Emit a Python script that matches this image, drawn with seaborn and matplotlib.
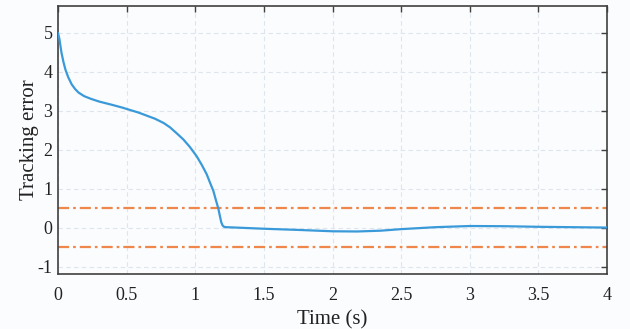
import matplotlib
matplotlib.use("Agg")
import matplotlib.pyplot as plt
import seaborn as sns
import pandas as pd

# Data
time_s = [0.0, 0.01, 0.025, 0.04, 0.055, 0.075, 0.1, 0.125, 0.15, 0.19, 0.24, 0.30, 0.39,
          0.464, 0.585, 0.707, 0.77, 0.816, 0.87, 0.913, 0.96, 1.01, 1.047, 1.083, 1.11,
          1.132, 1.15, 1.168, 1.18, 1.19, 1.2, 1.21, 1.225, 1.3, 1.5, 1.75, 2.0, 2.18,
          2.35, 2.5, 2.75, 3.0, 3.25, 3.5, 3.75, 4.0]
tracking_error = [5.0, 4.85, 4.5, 4.25, 4.05, 3.86, 3.68, 3.56, 3.47, 3.38, 3.31, 3.24, 3.16,
                  3.09, 2.96, 2.8, 2.69, 2.58, 2.41, 2.27, 2.08, 1.84, 1.62, 1.38, 1.14,
                  0.95, 0.72, 0.5, 0.3, 0.14, 0.06, 0.03, 0.02, 0.01, -0.02, -0.05, -0.085, -0.09,
                  -0.07, -0.03, 0.02, 0.05, 0.045, 0.03, 0.02, 0.01]
bound_levels = [0.5, -0.5]

x_ticks = [0, 0.5, 1, 1.5, 2, 2.5, 3, 3.5, 4]
x_tick_labels = ["0", "0.5", "1", "1.5", "2", "2.5", "3", "3.5", "4"]
y_ticks = [-1, 0, 1, 2, 3, 4, 5]
y_tick_labels = ["-1", "0", "1", "2", "3", "4", "5"]

sns.set_theme(style="white")
plt.rcParams["font.family"] = ["Liberation Serif", "DejaVu Serif"]

bg = "#fbfcfe"
fig = plt.figure(figsize=(6.30, 3.29), dpi=100, facecolor=bg)
ax = fig.add_axes([58 / 630, 1 - 274 / 329, (607 - 58) / 630, (274 - 6) / 329])
ax.set_facecolor(bg)

df = pd.DataFrame({"t": time_s, "e": tracking_error})

for lvl in bound_levels:
    ax.axhline(lvl, color="#f0874a", lw=1.6, linestyle=(0, (5, 1.8, 1.2, 1.8)), zorder=2)

sns.lineplot(data=df, x="t", y="e", ax=ax, color="#3a9ad9", lw=1.6, zorder=3)

ax.set_xlim(0, 4)
ax.set_ylim(-1.18, 5.69)
ax.set_xticks(x_ticks)
ax.set_xticklabels(x_tick_labels)
ax.set_yticks(y_ticks)
ax.set_yticklabels(y_tick_labels)

ax.grid(True, linestyle=(0, (4, 3)), color="#dfe5ec", lw=0.8)
ax.set_axisbelow(True)

for s in ax.spines.values():
    s.set_visible(True)
    s.set_color("#404040")
    s.set_linewidth(1.2)

ax.tick_params(axis="both", direction="in", length=4.5, width=1.0, color="#404040",
               top=True, right=True, labelsize=13, labelcolor="#222222")
ax.tick_params(axis="x", pad=9)
ax.tick_params(axis="y", pad=4)

ax.set_xlabel("Time (s)", fontsize=15, color="#222222", labelpad=5)
ax.set_ylabel("Tracking error", fontsize=15, color="#222222", labelpad=-1)

fig.savefig("out.png", dpi=100, facecolor=bg)
